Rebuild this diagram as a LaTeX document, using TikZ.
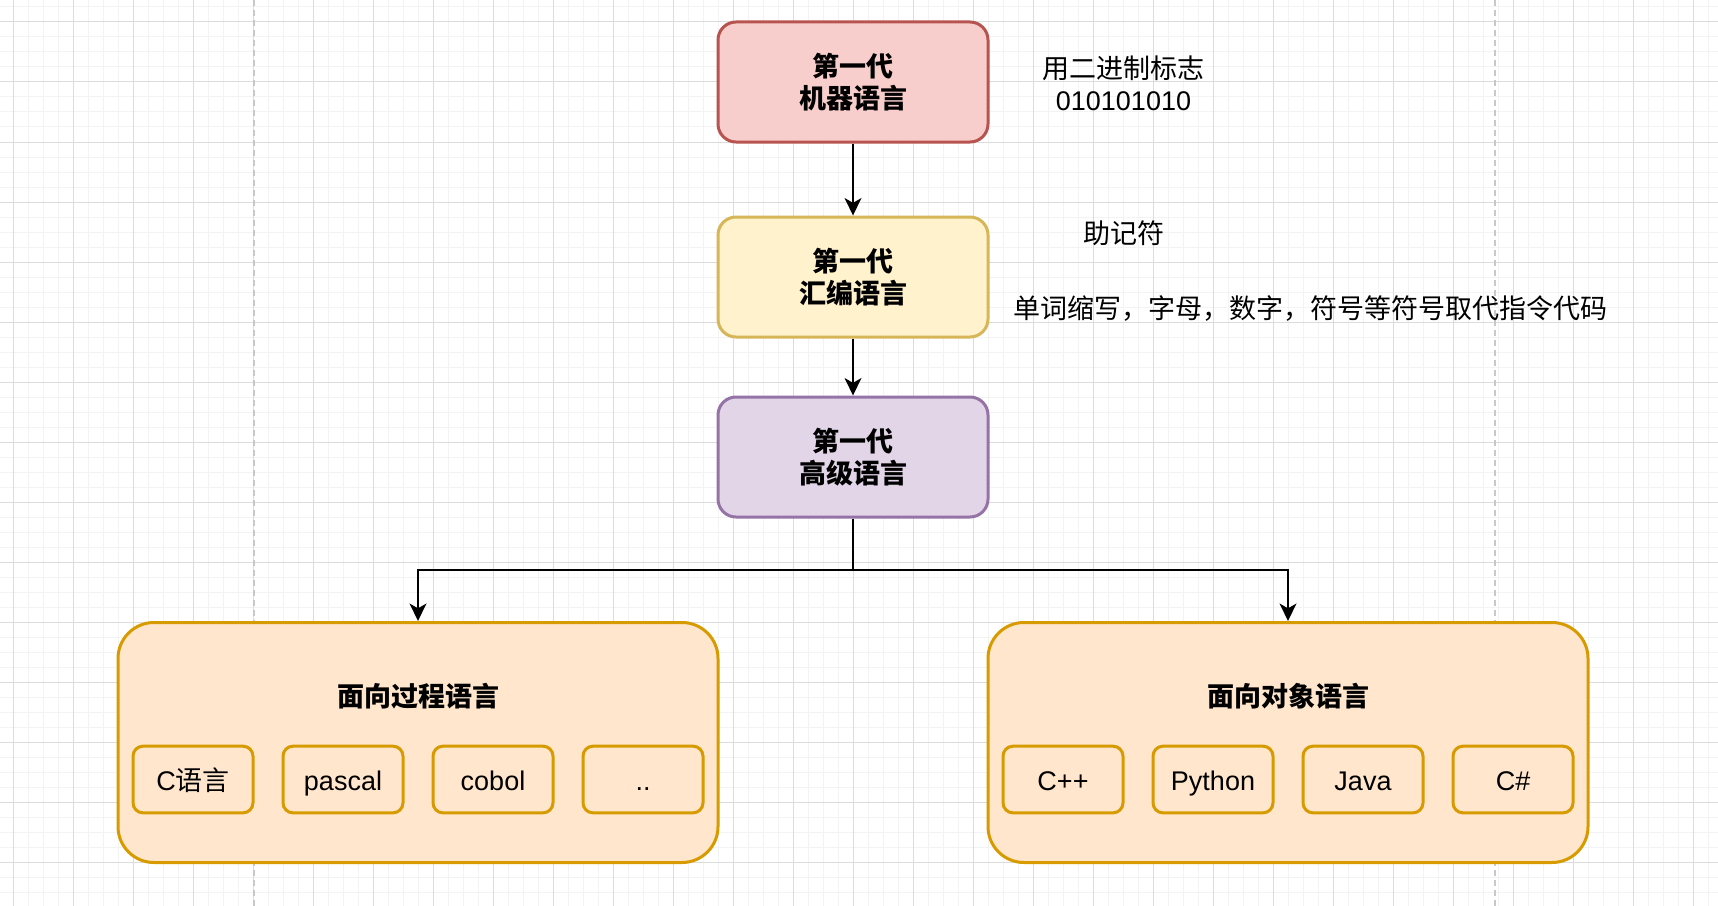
\documentclass[tikz,border=0pt]{standalone}
\usepackage{fontspec}
\setmainfont{Noto Sans CJK SC}
\newfontfamily\latinfont{Liberation Sans}
\usetikzlibrary{arrows.meta}

\definecolor{gridminor}{HTML}{F3F3F3}
\definecolor{gridmajor}{HTML}{DCDCDC}
\definecolor{pageline}{HTML}{C8C8C8}
\definecolor{redfill}{HTML}{F8CECC}
\definecolor{redline}{HTML}{B85450}
\definecolor{yellowfill}{HTML}{FFF2CC}
\definecolor{yellowline}{HTML}{D6B656}
\definecolor{purplefill}{HTML}{E1D5E7}
\definecolor{purpleline}{HTML}{9673A6}
\definecolor{orangefill}{HTML}{FFE6CC}
\definecolor{orangeline}{HTML}{D79B00}

\begin{document}
\begin{tikzpicture}[x=0.75pt,y=0.75pt,yscale=-1,xscale=1,
  every node/.style={font=\fontsize{20.25}{24}\selectfont},
  genbox/.style={draw, rounded corners=13.5pt, line width=2.25pt, minimum width=202.5pt, minimum height=90pt, inner sep=0pt, align=center, font=\fontsize{20.25}{24}\selectfont\bfseries},
  groupbox/.style={draw=orangeline, fill=orangefill, rounded corners=27pt, line width=2.25pt, minimum width=450pt, minimum height=180pt, inner sep=0pt},
  langbox/.style={draw=orangeline, fill=orangefill, rounded corners=7.5pt, line width=2.25pt, minimum width=90pt, minimum height=50pt, inner sep=0pt, text height=18pt, text depth=1pt},
  arr/.style={-{Stealth[length=13pt,width=12.5pt,inset=3.5pt]}, line width=1.9pt}]

%set diagram size 1718 x 906
\useasboundingbox (0,0) rectangle (1718,906);
\fill [white] (0,0) rectangle (1718,906);

%Grid
\foreach \gx in {-2,13,...,1718} \draw [gridminor, line width=0.75pt] (\gx,0) -- (\gx,906);
\foreach \gy in {7,22,...,906} \draw [gridminor, line width=0.75pt] (0,\gy) -- (1718,\gy);
\foreach \gx in {13,73,...,1718} \draw [gridmajor, line width=0.75pt] (\gx,0) -- (\gx,906);
\foreach \gy in {22,82,...,906} \draw [gridmajor, line width=0.75pt] (0,\gy) -- (1718,\gy);
%Page borders
\draw [pageline, line width=1pt, dash pattern={on 4.5pt off 3pt}] (254,0) -- (254,906);
\draw [pageline, line width=1pt, dash pattern={on 4.5pt off 3pt}] (1495,0) -- (1495,906);

%Shape: Rectangle
\node [genbox, draw=redline, fill=redfill] (machine) at (853,82) {第一代\\机器语言};
%Shape: Rectangle
\node [genbox, draw=yellowline, fill=yellowfill] (assembly) at (853,277) {第一代\\汇编语言};
%Shape: Rectangle
\node [genbox, draw=purpleline, fill=purplefill] (highlevel) at (853,457) {第一代\\高级语言};

%Shape: Rectangle
\node [groupbox] (procedural) at (418,742.5) {};
%Shape: Rectangle
\node [groupbox] (objectoriented) at (1288,742.5) {};

% Text Node
\node [font=\fontsize{20.25}{24}\selectfont\bfseries] (proctitle) at (418,696) {面向过程语言};
% Text Node
\node [font=\fontsize{20.25}{24}\selectfont\bfseries] (ootitle) at (1288,696) {面向对象语言};

%Shape: Rectangle
\node [langbox] (clang) at (193,779.5) {{\latinfont C}语言};
\node [langbox] (pascal) at (343,779.5) {\latinfont pascal};
\node [langbox] (cobol) at (493,779.5) {\latinfont cobol};
\node [langbox] (more) at (643,779.5) {\latinfont ..};
%Shape: Rectangle
\node [langbox] (cpp) at (1063,779.5) {\latinfont C++};
\node [langbox] (python) at (1213,779.5) {\latinfont Python};
\node [langbox] (java) at (1363,779.5) {\latinfont Java};
\node [langbox] (csharp) at (1513,779.5) {\latinfont C\#};

%Straight Lines
\draw [arr] (machine) -- (assembly);
\draw [arr] (assembly) -- (highlevel);
\coordinate (split) at (853,570);
\draw [arr] (highlevel.south) -- (split) -| (procedural.north);
\draw [arr] (split) -| (objectoriented.north);

% Text Node
\node [align=center] (binary) at (1123.5,83.5) {用二进制标志\\{\latinfont 010101010}};
% Text Node
\node (mnemonic) at (1124,233) {助记符};
% Text Node
\node (replace) at (1310,309) {单词缩写，字母，数字，符号等符号取代指令代码};

\end{tikzpicture}
\end{document}
